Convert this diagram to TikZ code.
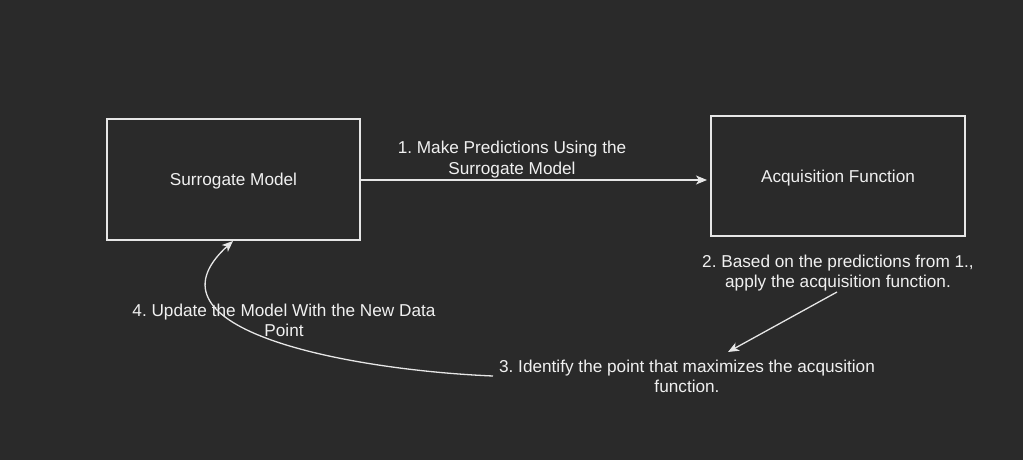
\documentclass[tikz,border=0pt]{standalone}
\usepackage{fontspec}
\setmainfont{Liberation Sans}
\usetikzlibrary{arrows.meta}
\definecolor{bg}{HTML}{2A2A2A}
\definecolor{fg}{HTML}{F0F0F0}
\definecolor{edge}{HTML}{E6E6E6}
\frenchspacing
\begin{document}
\begin{tikzpicture}[x=1pt,y=-1pt,
  box/.style={draw=edge,line width=1.3pt,minimum width=253pt,minimum height=121pt,inner sep=0pt,text=fg,text height=16pt,text depth=3.5pt,font=\fontsize{17.2}{20}\selectfont},
  lbl/.style={text=fg,align=center,inner sep=0pt,font=\fontsize{17.2}{20}\selectfont},
  conn/.style={draw=edge,line width=1.3pt,-{Stealth[length=11pt,width=9pt,inset=3pt]}}]
\fill[bg] (0,0) rectangle (1023,460);
\useasboundingbox (0,0) rectangle (1023,460);
\node[box] (sm) at (233.5,179.5) {Surrogate Model};
\node[box,minimum width=254pt,minimum height=120pt] (af) at (838,176) {Acquisition Function};
\node[lbl,font=\fontsize{17.2}{21}\selectfont] (l1) at (512,160) {1. Make Predictions Using the\\Surrogate Model};
\node[lbl] (l2) at (838,273) {2. Based on the predictions from 1.,\\apply the acquisition function.};
\node[lbl] (l3) at (687,376.5) {3. Identify the point that maximizes the acqusition\\function.};
\node[lbl] (l4) at (284,320.5) {4. Update the Model With the New Data\\Point};
\coordinate (a1e) at (707,180);
\coordinate (a2s) at (837,292);
\coordinate (a2e) at (728,352);
\coordinate (a4s) at (493,376);
\coordinate (a4e) at (233,241);
\draw[conn] (sm.east |- a1e) -- (a1e);
\draw[conn] (a2s) -- (a2e);
\draw[conn] (a4s) .. controls (350,370) and (135,330) .. (a4e);
\end{tikzpicture}
\end{document}
